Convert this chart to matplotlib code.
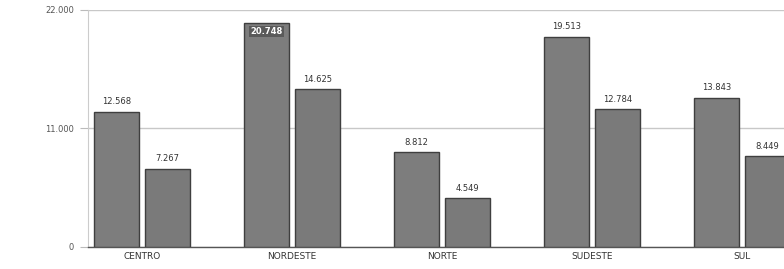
import numpy as np
import matplotlib.pyplot as plt

regions = ['CENTRO', 'NORDESTE', 'NORTE', 'SUDESTE', 'SUL']
serie_a = [12568, 20748, 8812, 19513, 13843]
serie_b = [7267, 14625, 4549, 12784, 8449]
y_ticks = [0, 11000, 22000]


def fmt(v):
    return f"{v:,}".replace(',', '.')


fig = plt.figure(figsize=(7.84, 2.69), dpi=100)
ax = fig.add_axes([0.112, 0.082, 0.888, 0.881])

x = np.arange(len(regions))
w = 0.30
off = 0.17
bars_a = ax.bar(x - off, serie_a, w, color='#7d7d7d', edgecolor='#3f3f3f', linewidth=1.0, zorder=3)
bars_b = ax.bar(x + off, serie_b, w, color='#7a7a7a', edgecolor='#3f3f3f', linewidth=1.0, zorder=3)

for bars, vals in ((bars_a, serie_a), (bars_b, serie_b)):
    for b, v in zip(bars, vals):
        cx = b.get_x() + b.get_width() / 2
        if v > 20000:
            # the tallest bar has its label inside, in white
            ax.text(cx, v - 350, fmt(v), ha='center', va='top', fontsize=6,
                    color='white', fontweight='bold', zorder=4,
                    bbox=dict(boxstyle='square,pad=0.15', fc='#5a5a5a', ec='none'))
        else:
            ax.text(cx, v + 500, fmt(v), ha='center', va='bottom', fontsize=6,
                    color='#333333', zorder=4)

ax.set_xlim(-0.36, 4.28)
ax.set_ylim(0, 22000)
ax.set_yticks(y_ticks)
ax.set_yticklabels([fmt(t) for t in y_ticks], fontsize=6, color='#555555')
ax.set_xticks(x)
ax.set_xticklabels(regions, fontsize=6.5, color='#333333')
ax.tick_params(axis='x', length=0, pad=4)
ax.tick_params(axis='y', length=6, color='#bbbbbb', pad=4)

ax.grid(axis='y', color='#c8c8c8', linewidth=1.0, zorder=0)
for side in ('top', 'right'):
    ax.spines[side].set_visible(False)
ax.spines['left'].set_color('#cccccc')
ax.spines['bottom'].set_color('#555555')
ax.spines['bottom'].set_linewidth(1.0)

fig.savefig('out.png', dpi=100)
